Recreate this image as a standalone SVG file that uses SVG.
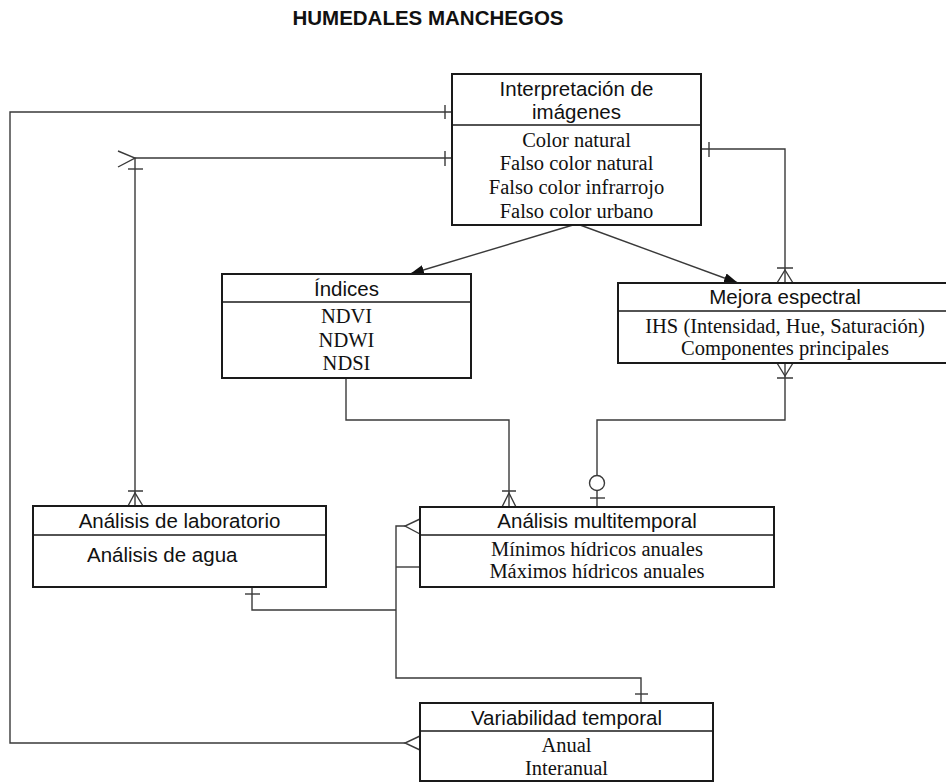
<svg xmlns="http://www.w3.org/2000/svg" width="946" height="783" viewBox="0 0 946 783">
<style>
  .box { fill: #fff; stroke: #1a1a1a; stroke-width: 2; }
  .div { stroke: #1a1a1a; stroke-width: 1.6; }
  .hd { font-family: "Liberation Sans", Arial, sans-serif; font-size: 20.5px; fill: #111; text-anchor: middle; }
  .bd { font-family: "Liberation Serif", "Times New Roman", serif; font-size: 20.5px; fill: #111; text-anchor: middle; }
  .title { font-family: "Liberation Sans", Arial, sans-serif; font-size: 20.5px; font-weight: bold; fill: #111; text-anchor: middle; }
  .ln { fill: none; stroke: #3a3a3a; stroke-width: 1.4; }
</style>
<defs>
  <marker id="arr" viewBox="0 0 14 10" refX="14" refY="5" markerWidth="14" markerHeight="10" markerUnits="userSpaceOnUse" orient="auto">
    <path d="M0,0 L14,5 L0,10 Z" fill="#111"/>
  </marker>
</defs>
<rect width="946" height="783" fill="#fff"/>
<text class="title" x="428" y="25">HUMEDALES MANCHEGOS</text>

<g id="connectors">
  <!-- outer loop: Interpretación -> Variabilidad -->
  <path class="ln" d="M452,112 H10 V743 H405"/>
  <path class="ln" d="M445,105 V119"/>
  <path class="ln" d="M420,736 L405,743 L420,750"/>
  <!-- Interpretación -> Análisis de laboratorio -->
  <path class="ln" d="M452,158 H135 V506"/>
  <path class="ln" d="M445,151 V166"/>
  <path class="ln" d="M118,151 L135,158 L118,167"/>
  <path class="ln" d="M128,169 H143"/>
  <path class="ln" d="M128,491 H143 M128,506 L135,493 L143,506"/>
  <!-- Interpretación -> Mejora espectral -->
  <path class="ln" d="M701,149 H785 V283"/>
  <path class="ln" d="M709,142 V157"/>
  <path class="ln" d="M777,268 H793 M777,283 L785,270 L793,283"/>
  <!-- arrows -->
  <line class="ln" x1="573" y1="225" x2="410" y2="274" marker-end="url(#arr)"/>
  <line class="ln" x1="580" y1="225" x2="738" y2="283" marker-end="url(#arr)"/>
  <!-- Índices -> Análisis multitemporal -->
  <path class="ln" d="M346,378 V420 H509 V507"/>
  <path class="ln" d="M502,491 H516 M502,507 L509,493 L516,507"/>
  <!-- Mejora -> Análisis multitemporal -->
  <path class="ln" d="M785,363 V420 H597 V475.5 M597,490.5 V507"/>
  <path class="ln" d="M777,363 L785,376 L793,363 M777,378 H793"/>
  <circle class="ln" cx="597" cy="483" r="7.5"/>
  <path class="ln" d="M590,498 H605"/>
  <!-- Análisis multitemporal / laboratorio / variabilidad -->
  <path class="ln" d="M405,526 H396 V678 H641 V703"/>
  <path class="ln" d="M420,519 L405,526 L420,534"/>
  <path class="ln" d="M396,567 H420"/>
  <path class="ln" d="M252,587 V610 H396"/>
  <path class="ln" d="M245,594 H260"/>
  <path class="ln" d="M635,694 H648"/>
</g>

<g id="interpretacion">
  <rect class="box" x="452" y="74" width="249" height="151"/>
  <line class="div" x1="452" y1="125" x2="701" y2="125"/>
  <text class="hd" x="576.5" y="96">Interpretación de</text>
  <text class="hd" x="576.5" y="119">imágenes</text>
  <text class="bd" x="576.5" y="147">Color natural</text>
  <text class="bd" x="576.5" y="170">Falso color natural</text>
  <text class="bd" x="576.5" y="194">Falso color infrarrojo</text>
  <text class="bd" x="576.5" y="218">Falso color urbano</text>
</g>

<g id="indices">
  <rect class="box" x="222" y="274" width="249" height="104"/>
  <line class="div" x1="222" y1="302" x2="471" y2="302"/>
  <text class="hd" x="346.5" y="296">Índices</text>
  <text class="bd" x="346.5" y="323">NDVI</text>
  <text class="bd" x="346.5" y="347">NDWI</text>
  <text class="bd" x="346.5" y="370">NDSI</text>
</g>

<g id="mejora">
  <rect class="box" x="618" y="283" width="334" height="80"/>
  <line class="div" x1="618" y1="311" x2="952" y2="311"/>
  <text class="hd" x="785" y="304">Mejora espectral</text>
  <text class="bd" x="785" y="333">IHS (Intensidad, Hue, Saturación)</text>
  <text class="bd" x="785" y="355">Componentes principales</text>
</g>

<g id="laboratorio">
  <rect class="box" x="33" y="506" width="293" height="81"/>
  <line class="div" x1="33" y1="535" x2="326" y2="535"/>
  <text class="hd" x="179.5" y="528">Análisis de laboratorio</text>
  <text class="hd" x="87" y="562" style="text-anchor:start">Análisis de agua</text>
</g>

<g id="multitemporal">
  <rect class="box" x="420" y="507" width="354" height="80"/>
  <line class="div" x1="420" y1="535" x2="774" y2="535"/>
  <text class="hd" x="597" y="528">Análisis multitemporal</text>
  <text class="bd" x="597" y="556">Mínimos hídricos anuales</text>
  <text class="bd" x="597" y="578">Máximos hídricos anuales</text>
</g>

<g id="variabilidad">
  <rect class="box" x="420" y="703" width="293" height="78"/>
  <line class="div" x1="420" y1="731" x2="713" y2="731"/>
  <text class="hd" x="566.5" y="725">Variabilidad temporal</text>
  <text class="bd" x="566.5" y="752">Anual</text>
  <text class="bd" x="566.5" y="775">Interanual</text>
</g>
</svg>
